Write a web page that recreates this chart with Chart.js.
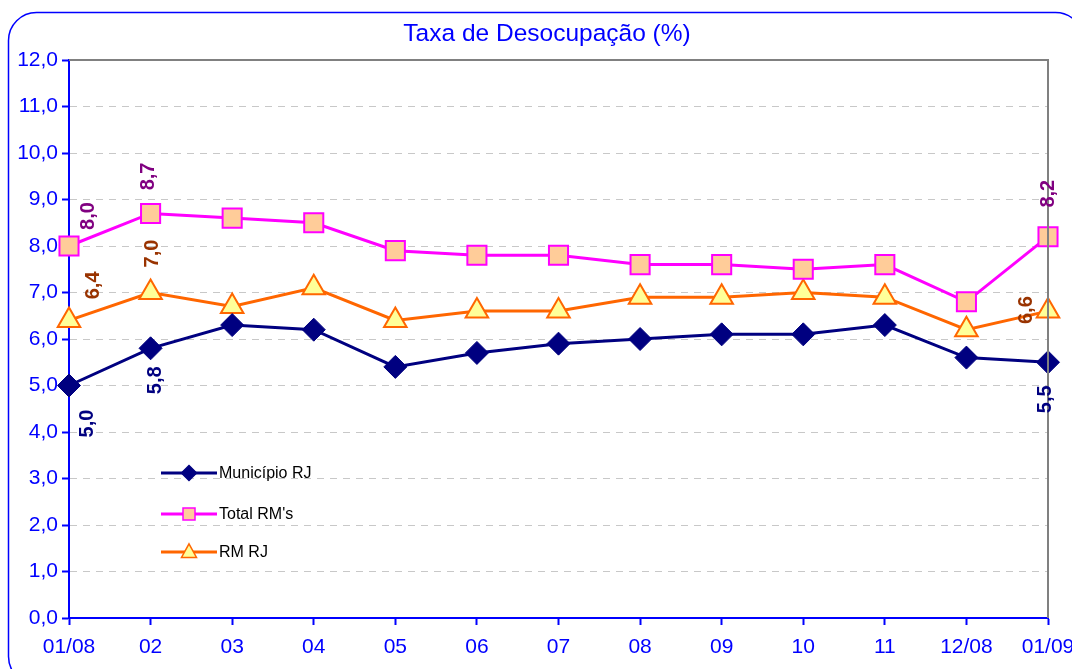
<!DOCTYPE html>
<html>
<head>
<meta charset="utf-8">
<title>Taxa de Desocupação</title>
<script src="https://cdn.jsdelivr.net/npm/chart.js@4/dist/chart.umd.min.js"></script>
<style>
  html, body { margin: 0; padding: 0; background: #fff; }
  canvas { display: block; }
</style>
</head>
<body>
<canvas id="grafDesocupacao" width="1072" height="669"></canvas>
<script>
// dados
const meses = ['01/08', '02', '03', '04', '05', '06', '07', '08', '09', '10', '11', '12/08', '01/09'];
const municipioRJ = [5.0, 5.8, 6.3, 6.2, 5.4, 5.7, 5.9, 6.0, 6.1, 6.1, 6.3, 5.6, 5.5];
const totalRMs = [8.0, 8.7, 8.6, 8.5, 7.9, 7.8, 7.8, 7.6, 7.6, 7.5, 7.6, 6.8, 8.2];
const rmRJ = [6.4, 7.0, 6.7, 7.1, 6.4, 6.6, 6.6, 6.9, 6.9, 7.0, 6.9, 6.2, 6.6];

const FONTE = '"Liberation Sans", Arial, sans-serif';
const fmt = v => v.toFixed(1).replace('.', ',');

// rotulos de dados (so primeiros e ultimo ponto), deslocamento em px
const rotulos = [
  { ds: 0, i: 0, dx: 18, dy: 38, cor: '#000080' },
  { ds: 0, i: 1, dx: 5, dy: 32, cor: '#000080' },
  { ds: 0, i: 12, dx: -3, dy: 37, cor: '#000080' },
  { ds: 1, i: 0, dx: 19, dy: -30, cor: '#800080' },
  { ds: 1, i: 1, dx: -2, dy: -37, cor: '#800080' },
  { ds: 1, i: 12, dx: 0, dy: -43, cor: '#800080' },
  { ds: 2, i: 0, dx: 24, dy: -35, cor: '#993300' },
  { ds: 2, i: 1, dx: 2, dy: -39, cor: '#993300' },
  { ds: 2, i: 12, dx: -22, dy: -1, cor: '#993300' }
];

function marcador(ctx, tipo, x, y, r, fill, stroke) {
  ctx.save();
  ctx.fillStyle = fill;
  ctx.strokeStyle = stroke;
  ctx.lineWidth = 1.5;
  ctx.beginPath();
  if (tipo === 'rectRot') {
    ctx.moveTo(x, y - r); ctx.lineTo(x + r, y); ctx.lineTo(x, y + r); ctx.lineTo(x - r, y);
  } else if (tipo === 'rect') {
    ctx.rect(x - r, y - r, 2 * r, 2 * r);
  } else {
    const h = r * 1.8;
    ctx.moveTo(x, y - h * 0.6); ctx.lineTo(x + r, y + h * 0.4); ctx.lineTo(x - r, y + h * 0.4);
  }
  ctx.closePath();
  ctx.fill();
  ctx.stroke();
  ctx.restore();
}

const moldura = {
  id: 'moldura',
  beforeDraw(chart) {
    const ctx = chart.ctx;
    ctx.save();
    ctx.fillStyle = '#fff';
    ctx.fillRect(0, 0, chart.width, chart.height);
    ctx.strokeStyle = '#0000ff';
    ctx.lineWidth = 1.5;
    ctx.beginPath();
    ctx.roundRect(8.5, 12.5, 1075, 672, 28);
    ctx.stroke();
    ctx.fillStyle = '#0000ff';
    ctx.font = '24.5px ' + FONTE;
    ctx.textAlign = 'center';
    ctx.textBaseline = 'middle';
    ctx.fillText('Taxa de Desocupação (%)', 547, 34);
    ctx.restore();
  },
  afterDatasetsDraw(chart) {
    const ctx = chart.ctx;
    const a = chart.chartArea;
    ctx.save();
    // borda superior e direita da area de plotagem
    ctx.strokeStyle = '#808080';
    ctx.lineWidth = 2;
    ctx.beginPath();
    ctx.moveTo(a.left, a.top);
    ctx.lineTo(a.right, a.top);
    ctx.lineTo(a.right, a.bottom);
    ctx.stroke();

    // rotulos
    ctx.font = 'bold 20px ' + FONTE;
    ctx.textAlign = 'center';
    ctx.textBaseline = 'middle';
    rotulos.forEach(r => {
      const p = chart.getDatasetMeta(r.ds).data[r.i];
      const v = chart.data.datasets[r.ds].data[r.i];
      ctx.save();
      ctx.translate(p.x + r.dx, p.y + r.dy);
      ctx.rotate(-Math.PI / 2);
      ctx.fillStyle = r.cor;
      ctx.fillText(fmt(v), 0, 0);
      ctx.restore();
    });

    // legenda dentro do grafico
    const linhas = [473, 514, 552];
    chart.data.datasets.forEach((ds, k) => {
      const y = linhas[k];
      ctx.strokeStyle = ds.borderColor;
      ctx.lineWidth = 3;
      ctx.beginPath();
      ctx.moveTo(161, y);
      ctx.lineTo(217, y);
      ctx.stroke();
      marcador(ctx, ds.pointStyle, 189, y, ds.pointStyle === 'rect' ? 6 : 7.5, ds.pointBackgroundColor, ds.pointBorderColor);
      ctx.fillStyle = '#000';
      ctx.font = '16px ' + FONTE;
      ctx.textAlign = 'left';
      ctx.fillText(ds.label, 219, y + 1);
    });
    ctx.restore();
  }
};

const ctx = document.getElementById('grafDesocupacao').getContext('2d');

const myChart = new Chart(ctx, {
  type: 'line',
  data: {
    labels: meses,
    datasets: [{
      label: 'Município RJ',
      data: municipioRJ,
      borderColor: '#000080',
      borderWidth: 3,
      pointStyle: 'rectRot',
      pointRadius: 11.5,
      pointBackgroundColor: '#000080',
      pointBorderColor: '#000080',
      pointBorderWidth: 1
    }, {
      label: "Total RM's",
      data: totalRMs,
      borderColor: '#ff00ff',
      borderWidth: 3,
      pointStyle: 'rect',
      pointRadius: 13.5,
      pointBackgroundColor: '#ffcc99',
      pointBorderColor: '#ff00ff',
      pointBorderWidth: 2
    }, {
      label: 'RM RJ',
      data: rmRJ,
      borderColor: '#ff6600',
      borderWidth: 3,
      pointStyle: 'triangle',
      pointRadius: 13,
      pointBackgroundColor: '#ffff99',
      pointBorderColor: '#ff6600',
      pointBorderWidth: 2
    }]
  },
  options: {
    responsive: false,
    animation: false,
    events: [],
    layout: { padding: { top: 60, right: 24, left: 0, bottom: 0 } },
    elements: { line: { tension: 0 } },
    plugins: {
      legend: { display: false },
      tooltip: { enabled: false },
      title: { display: false }
    },
    scales: {
      x: {
        offset: false,
        afterFit: s => { s.height = 51; s.paddingRight = 0; s.paddingLeft = 0; },
        border: { color: '#0000ff', width: 2 },
        grid: { drawOnChartArea: false, drawTicks: true, tickLength: 7, tickColor: '#0000ff', tickWidth: 2 },
        ticks: { color: '#0000ff', font: { family: FONTE, size: 21 }, padding: 10, maxRotation: 0, autoSkip: false }
      },
      y: {
        min: 0,
        max: 12,
        afterFit: s => { s.width = 69; s.paddingTop = 0; s.paddingBottom = 0; },
        border: { color: '#0000ff', width: 2, dash: [7, 6] },
        grid: { color: '#c8c8c8', tickBorderDash: [], tickColor: '#0000ff', tickLength: 7, tickWidth: 2 },
        ticks: { stepSize: 1, color: '#0000ff', font: { family: FONTE, size: 21 }, padding: 4, callback: v => fmt(v) }
      }
    }
  },
  plugins: [moldura]
});
</script>
</body>
</html>
